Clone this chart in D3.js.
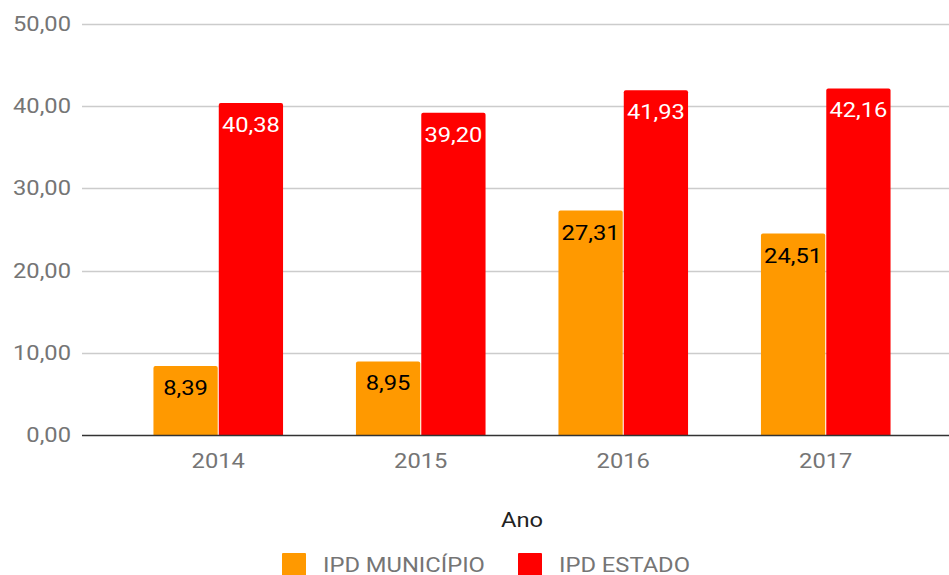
<!DOCTYPE html>
<html>
<head>
<meta charset="utf-8">
<script src="https://cdn.jsdelivr.net/npm/d3@7"></script>
<style>
    body { margin: 0; background: #fff; }
    svg { display: block; font-family: Roboto, "Noto Sans", sans-serif; }
</style>
</head>
<body>
<div id="chart"></div>
<script>
// data
var years = ["2014", "2015", "2016", "2017"];
var seriesNames = ["IPD MUNICÍPIO", "IPD ESTADO"];
var municipio = [8.39, 8.95, 27.31, 24.51];
var estado = [40.38, 39.20, 41.93, 42.16];
var yTicks = [0, 10, 20, 30, 40, 50];
var colors = ["#ff9900", "#ff0000"];
var labelColors = ["#000000", "#ffffff"];

var width = 949, height = 575;
var stretch = 1.13; // the original text looks a bit wide

var svg = d3.select("#chart")
    .append("svg")
    .attr("width", width)
    .attr("height", height);

// put a text at (x, y), stretched sideways around its anchor
function addText(parent, xPos, yPos, str, anchor, color) {
    var g = parent.append("g")
        .attr("transform", "translate(" + xPos + "," + yPos + ") scale(" + stretch + ",1)");
    g.append("text")
        .attr("text-anchor", anchor)
        .attr("fill", color)
        .style("font-size", "21px")
        .text(str);
    return g;
}

// y scale, 0 at the baseline
var y = d3.scaleLinear()
    .domain([0, 50])
    .range([435, 24]);

// x scale for the years, then one inside each year for the two series
var x0 = d3.scaleBand()
    .domain(years)
    .range([117, 927])
    .paddingInner(0.36)
    .paddingOuter(0.18);

var x1 = d3.scaleBand()
    .domain(seriesNames)
    .range([0, x0.bandwidth()])
    .paddingInner(0.016);

var fmt = function (v) {
    return v.toFixed(2).replace(".", ",");
};

// grid lines
svg.append("g")
    .selectAll("line")
    .data(yTicks.filter(function (d) { return d > 0; }))
    .enter()
    .append("line")
    .attr("x1", 82)
    .attr("x2", width)
    .attr("y1", function (d) { return Math.round(y(d)) + 0.5; })
    .attr("y2", function (d) { return Math.round(y(d)) + 0.5; })
    .attr("stroke", "#cccccc")
    .attr("stroke-width", 1.5);

// y tick labels
var yLab = svg.append("g");
yTicks.forEach(function (t) {
    addText(yLab, 71, y(t) + 7, fmt(t), "end", "#757575");
});

// bars, flat bottom with slightly rounded top corners
function barPath(xPos, w, top, bottom) {
    var r = 2;
    return "M" + xPos + "," + bottom +
        "V" + (top + r) +
        "Q" + xPos + "," + top + " " + (xPos + r) + "," + top +
        "H" + (xPos + w - r) +
        "Q" + (xPos + w) + "," + top + " " + (xPos + w) + "," + (top + r) +
        "V" + bottom + "Z";
}

var rows = years.map(function (yr, i) {
    return {year: yr, values: [municipio[i], estado[i]]};
});

var groups = svg.append("g")
    .selectAll("g")
    .data(rows)
    .enter()
    .append("g")
    .attr("transform", function (d) { return "translate(" + x0(d.year) + ",0)"; });

groups.selectAll("path")
    .data(function (d) {
        return d.values.map(function (v, k) { return {k: k, v: v}; });
    })
    .enter()
    .append("path")
    .attr("d", function (d) {
        return barPath(x1(seriesNames[d.k]), x1.bandwidth(), y(d.v), y(0));
    })
    .attr("fill", function (d) { return colors[d.k]; });

// value labels inside the top of each bar
groups.each(function (d) {
    var g = d3.select(this);
    d.values.forEach(function (v, k) {
        addText(g, x1(seriesNames[k]) + x1.bandwidth() / 2, y(v) + 29,
            fmt(v), "middle", labelColors[k]);
    });
});

// baseline
svg.append("line")
    .attr("x1", 82)
    .attr("x2", width)
    .attr("y1", y(0) + 0.5)
    .attr("y2", y(0) + 0.5)
    .attr("stroke", "#333333")
    .attr("stroke-width", 1.5);

// x tick labels
var xLab = svg.append("g");
years.forEach(function (yr) {
    addText(xLab, x0(yr) + x0.bandwidth() / 2, 468, yr, "middle", "#757575");
});

// axis title
addText(svg, 522, 527, "Ano", "middle", "#222222");

// legend
var legendX = [282, 518];
seriesNames.forEach(function (name, i) {
    svg.append("rect")
        .attr("x", legendX[i])
        .attr("y", 553)
        .attr("width", 24)
        .attr("height", 24)
        .attr("rx", 1)
        .attr("fill", colors[i]);
    addText(svg, legendX[i] + 41, 572, name, "start", "#757575");
});
</script>
</body>
</html>
